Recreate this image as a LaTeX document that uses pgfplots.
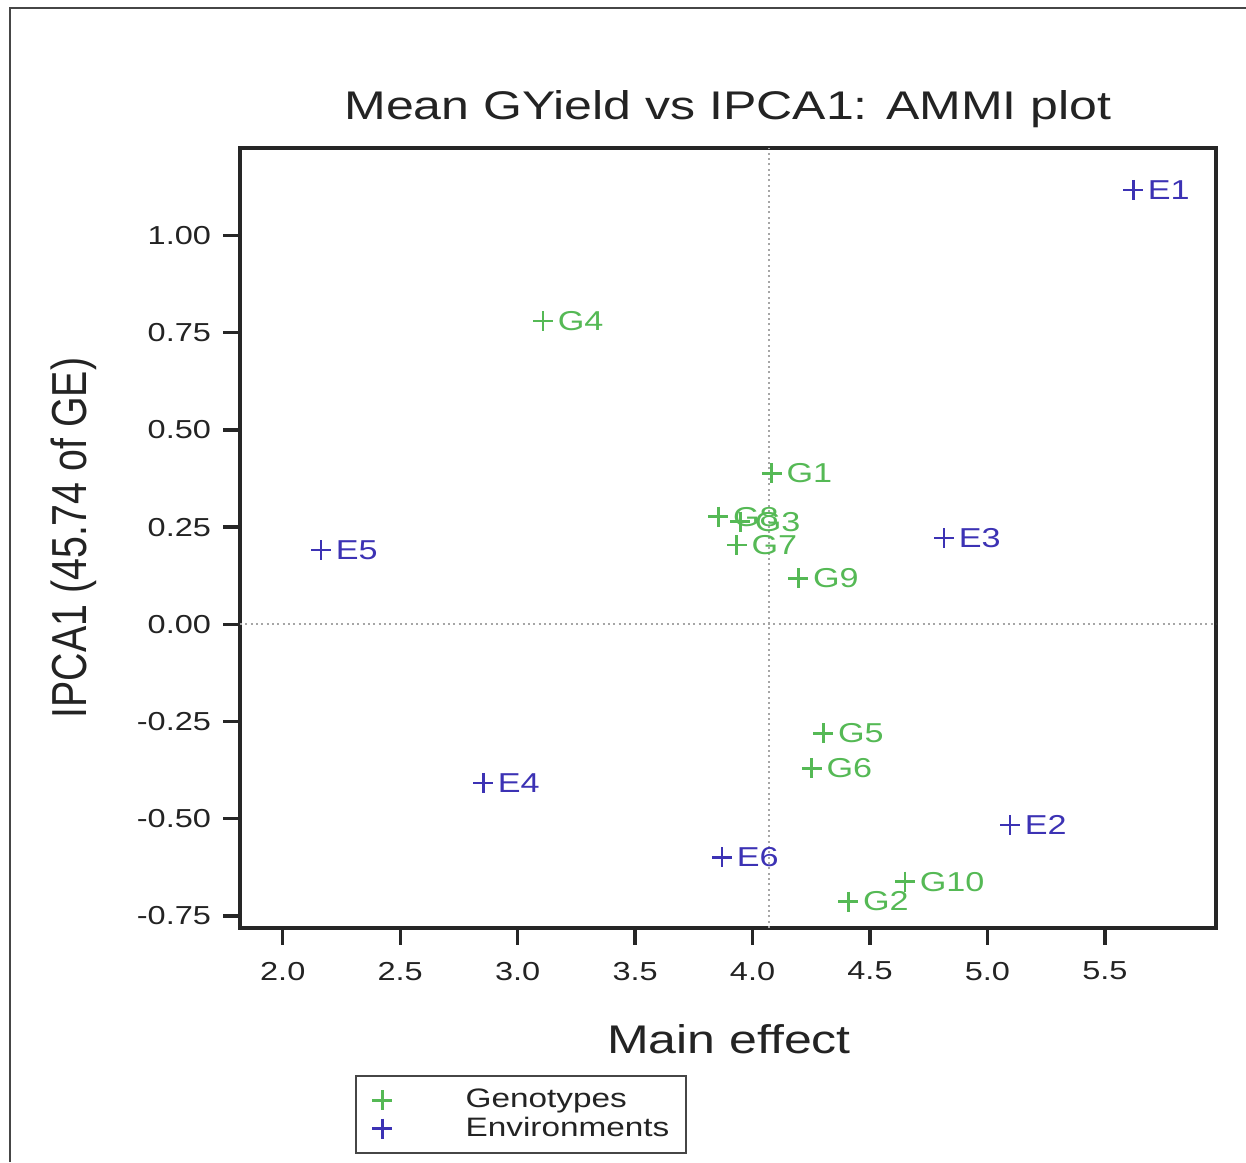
\documentclass[border=0pt]{standalone}
\usepackage{pgfplots}
\pgfplotsset{compat=1.18}
\usepackage{pgfplotstable}
\usepackage{graphicx}
\usepackage{fontspec}
\setmainfont{Liberation Sans}

\definecolor{gtgreen}{RGB}{85,185,85}
\definecolor{envblue}{RGB}{60,50,180}
\definecolor{framegray}{RGB}{70,70,70}
\definecolor{txtdark}{RGB}{35,35,35}
% the source picture is stretched sideways, so the text is too
\newcommand{\sx}[1]{\scalebox{1.25}[1]{#1}}

\pgfplotstableread{
x      y      label
4.082  0.388  G1
4.408 -0.713  G2
3.947  0.264  G3
3.108  0.780  G4
4.301 -0.280  G5
4.252 -0.370  G6
3.933  0.204  G7
3.854  0.277  G8
4.195  0.118  G9
4.649 -0.662  G10
}\genotypes

\pgfplotstableread{
x      y      label
5.620  1.117  E1
5.096 -0.516  E2
4.815  0.222  E3
2.853 -0.408  E4
2.163  0.191  E5
3.870 -0.599  E6
}\environments

\begin{document}
\begin{tikzpicture}
\useasboundingbox (0,0) rectangle (373.8pt,348.6pt);
\draw[framegray, line width=0.6pt] (3pt,0pt) -- (3pt,346.2pt) -- (373.8pt,346.2pt);
\begin{axis}[
  at={(72pt,70.2pt)}, anchor=south west,
  scale only axis, width=292.8pt, height=234pt,
  xmin=1.818, xmax=5.973, ymin=-0.781, ymax=1.225,
  xtick={2,2.5,...,5.5}, ytick={-0.75,-0.5,...,1},
  xtick pos=lower, ytick pos=left,
  tick align=outside, major tick length=5pt,
  axis line style={line width=1pt, black!85},
  every tick/.style={line width=1pt, black!85},
  /pgf/number format/assume math mode=true,
  xticklabel={\sx{\pgfmathprintnumber[fixed,fixed zerofill,precision=1]{\tick}}},
  yticklabel={\sx{\pgfmathprintnumber[fixed,fixed zerofill,precision=2]{\tick}}},
  xticklabel style={anchor=north, inner sep=0pt, yshift=-5pt, text=txtdark, font=\fontsize{7.8}{9}\selectfont},
  yticklabel style={anchor=east, inner sep=0pt, xshift=-3.5pt, text=txtdark, font=\fontsize{7.8}{9}\selectfont},
  title={\sx{Mean GYield vs IPCA1: AMMI plot}},
  title style={at={(0.5,1.0115)}, anchor=base, yshift=0pt, inner sep=0pt, text=txtdark, font=\fontsize{12}{14}\selectfont},
  xlabel={\sx{Main effect}},
  xlabel style={at={(0.501,-0.1615)}, anchor=base, inner sep=0pt, text=txtdark, font=\fontsize{12}{14}\selectfont},
  ylabel={\scalebox{1}[1.25]{IPCA1 (45.74 of GE)}},
  ylabel style={at={(-0.1706,0.5)}, anchor=center, inner sep=0pt, text=txtdark, font=\fontsize{11.8}{14}\selectfont},
  legend image code/.code={
    \path[draw=none, fill=none] (0pt,-3pt) rectangle (27.9pt,3pt);
    \draw[mark repeat=2,mark phase=2,#1] plot coordinates {(0pt,0pt) (3.4pt,0pt) (6.8pt,0pt)};
  },
  legend style={at={(0.1178,-0.1885)}, anchor=north west, draw=framegray, line width=0.6pt,
    inner xsep=4.5pt, inner ysep=3pt,
    nodes={inner sep=0.5pt, text height=6pt, text depth=1.5pt, text=txtdark, font=\fontsize{8}{10}\selectfont},
    cells={anchor=west}},
]
\addplot[forget plot, gray!70, densely dotted, line width=0.6pt] coordinates {(4.07,-0.781) (4.07,1.225)};
\addplot[forget plot, gray!70, densely dotted, line width=0.6pt] coordinates {(1.818,0) (5.973,0)};

\addplot[only marks, mark=+, mark size=3pt, mark options={line width=0.85pt}, color=gtgreen,
  point meta=explicit symbolic, nodes near coords={\sx{\pgfplotspointmeta}},
  every node near coord/.append style={anchor=west, inner sep=0pt, xshift=4pt, text=gtgreen, font=\fontsize{8.2}{10}\selectfont}]
  table[x=x, y=y, meta=label] {\genotypes};
\addplot[only marks, mark=+, mark size=3pt, mark options={line width=0.85pt}, color=envblue,
  point meta=explicit symbolic, nodes near coords={\sx{\pgfplotspointmeta}},
  every node near coord/.append style={anchor=west, inner sep=0pt, xshift=4pt, text=envblue, font=\fontsize{8.2}{10}\selectfont}]
  table[x=x, y=y, meta=label] {\environments};

\legend{\sx{Genotypes}, \sx{Environments}}
\end{axis}
\end{tikzpicture}
\end{document}
